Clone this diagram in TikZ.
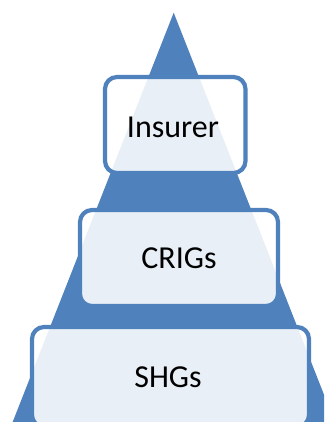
\documentclass[tikz,border=0pt]{standalone}
\usepackage{fontspec}
\setmainfont{Carlito}
\definecolor{pyr}{HTML}{4F81BD}
\begin{document}
\begin{tikzpicture}[x=1pt,y=-1pt,
  tier/.style={draw=pyr, line width=4.2pt, fill=white, fill opacity=0.875,
    draw opacity=1, rounded corners=12pt, rectangle, inner sep=0pt},
  tierlabel/.style={anchor=base, inner sep=0pt, font=\fontsize{32}{38}\selectfont, text=black}]
\useasboundingbox (0,0) rectangle (324,422);
\clip (0,0) rectangle (324,422);
\fill[pyr] (173.7,12.7) -- (9.5,430) -- (337.9,430) -- cycle;
\node[tier, minimum width=277pt, minimum height=100pt] (shg) at (170.5,377) {};
\node[tier, minimum width=198pt, minimum height=96pt] (crig) at (179,258) {};
\node[tier, minimum width=140.5pt, minimum height=96pt] (ins) at (175.25,125) {};
\node[tierlabel] (tins) at (173,138) {Insurer};
\node[tierlabel] (tcrig) at (179,268) {CRIGs};
\node[tierlabel] (tshg) at (168,387) {SHGs};
\end{tikzpicture}
\end{document}
